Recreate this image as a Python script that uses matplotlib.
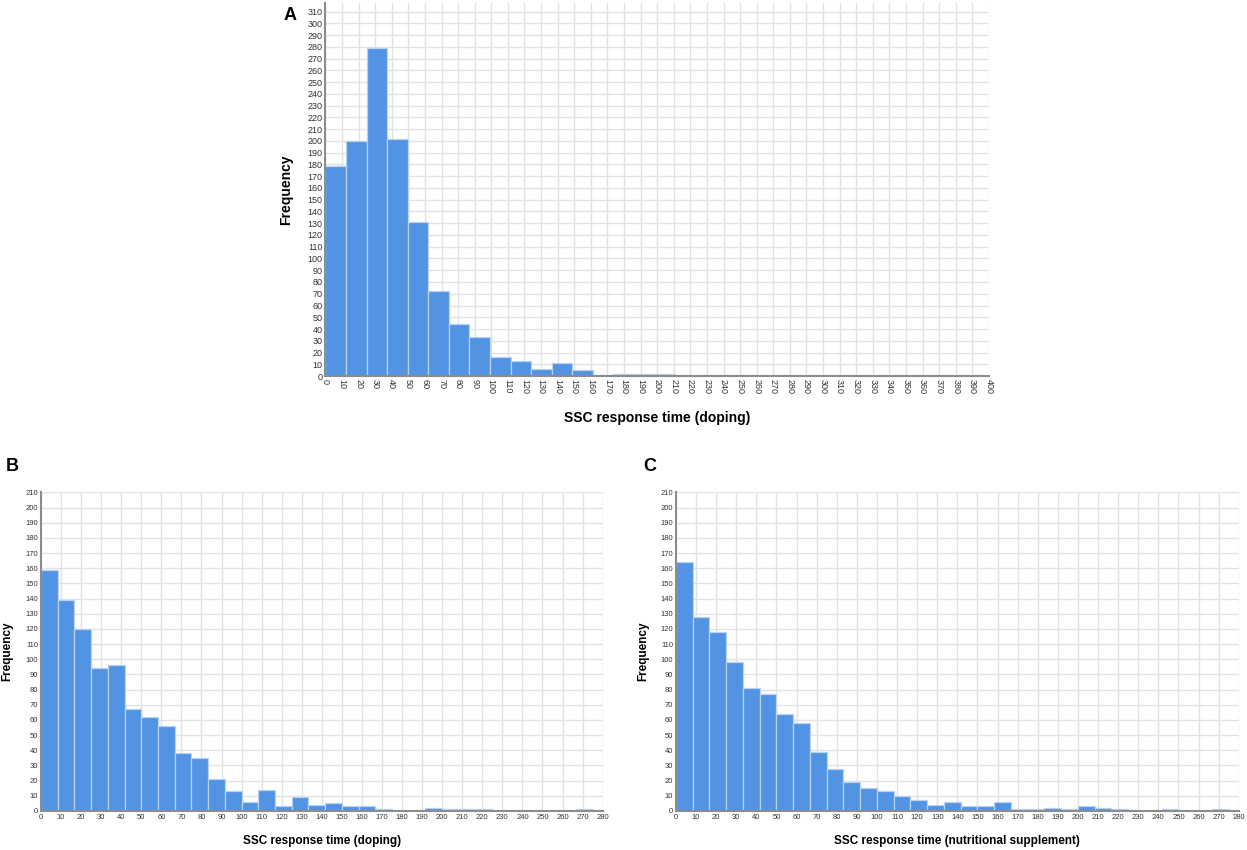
import numpy as np
import matplotlib
matplotlib.use("Agg")
import matplotlib.pyplot as plt

plt.rcParams["font.family"] = ["Liberation Sans", "DejaVu Sans"]

# panel A: SSC response time (doping), 30 bins of ~12.4
a_bin_width = 12.4
a_counts = [179, 200, 279, 202, 131, 72, 44, 33, 16, 13, 6, 11, 5, 1, 2,
            2, 2, 0, 1, 1, 1, 0, 1, 0, 0, 0, 0, 0, 0, 1]

# panel B: SSC response time (doping), 33 bins of ~8.33
b_bin_width = 275 / 33
b_counts = [159, 139, 120, 94, 96, 67, 62, 56, 38, 35, 21, 13, 6, 14, 3, 9,
            4, 5, 3, 3, 1, 0, 0, 2, 1, 1, 1, 0, 0, 0, 0, 0, 1]

# panel C: SSC response time (nutritional supplement)
c_bin_width = 275 / 33
c_counts = [164, 128, 118, 98, 81, 77, 64, 58, 39, 28, 19, 15, 13, 10, 7, 4,
            6, 3, 3, 6, 1, 1, 2, 1, 3, 2, 1, 0, 0, 1, 0, 0, 1]

bar_color = "#5393e3"
edge_color = "#b8d2f2"
grid_color = "#e2e2e2"
spine_color = "#8c8c8c"


def hist_panel(ax, counts, width, xmax, ymax, tick_fs, rot):
    edges = np.arange(len(counts)) * width
    ax.bar(edges, counts, width=width, align="edge", color=bar_color,
           edgecolor=edge_color, linewidth=0.9, zorder=3)
    ax.set_xlim(0, xmax)
    ax.set_ylim(0, ymax)
    ax.set_xticks(np.arange(0, xmax + 1, 10))
    ax.set_yticks(np.arange(0, ymax + 1, 10))
    ax.grid(True, color=grid_color, linewidth=1.0, zorder=0)
    ax.set_axisbelow(True)
    for s in ["top", "right"]:
        ax.spines[s].set_visible(False)
    for s in ["left", "bottom"]:
        ax.spines[s].set_color(spine_color)
        ax.spines[s].set_linewidth(1.5)
        ax.spines[s].set_zorder(4)
    ax.tick_params(length=0, pad=2, labelsize=tick_fs, colors="#333333")
    if rot:
        for lab in ax.get_xticklabels():
            lab.set_rotation(-90)


fig = plt.figure(figsize=(12.47, 8.5), dpi=100)

ax_a = fig.add_axes([0.261, 0.5576, 0.532, 0.4384])
hist_panel(ax_a, a_counts, a_bin_width, 400, 317, 6.5, True)
ax_a.set_yticks(np.arange(0, 311, 10))
ax_a.set_xlabel("SSC response time (doping)", fontsize=10, fontweight="bold")
ax_a.set_ylabel("Frequency", fontsize=10, fontweight="bold")
ax_a.xaxis.set_label_coords(0.5, -0.113)
ax_a.yaxis.set_label_coords(-0.0595, 0.5)

ax_b = fig.add_axes([0.0329, 0.0459, 0.4504, 0.3747])
hist_panel(ax_b, b_counts, b_bin_width, 280, 210, 5.5, False)
ax_b.set_xlabel("SSC response time (doping)", fontsize=8.5, fontweight="bold")
ax_b.set_ylabel("Frequency", fontsize=8.5, fontweight="bold")
ax_b.xaxis.set_label_coords(0.5, -0.094)
ax_b.yaxis.set_label_coords(-0.0605, 0.5)

ax_c = fig.add_axes([0.5421, 0.0459, 0.4513, 0.3747])
hist_panel(ax_c, c_counts, c_bin_width, 280, 210, 5.5, False)
ax_c.set_xlabel("SSC response time (nutritional supplement)", fontsize=8.5,
                fontweight="bold")
ax_c.set_ylabel("Frequency", fontsize=8.5, fontweight="bold")
ax_c.xaxis.set_label_coords(0.5, -0.094)
ax_c.yaxis.set_label_coords(-0.0585, 0.5)

for ax in [ax_a, ax_b, ax_c]:
    ax.xaxis.label.set_va("center")
    ax.yaxis.label.set_va("center")

fig.text(0.2326, 0.982, "A", fontsize=13, fontweight="bold", ha="center", va="center")
fig.text(0.0096, 0.4506, "B", fontsize=13, fontweight="bold", ha="center", va="center")
fig.text(0.521, 0.4506, "C", fontsize=13, fontweight="bold", ha="center", va="center")

fig.savefig("out.png", dpi=100)
